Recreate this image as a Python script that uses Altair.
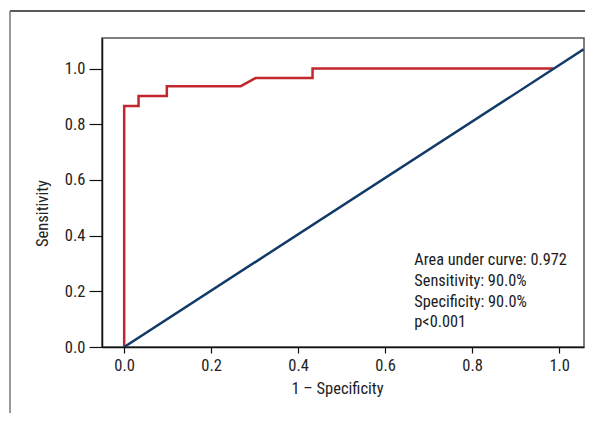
import altair as alt
import pandas as pd

# ROC curve points (1 - specificity, sensitivity)
roc_fpr = [0.0, 0.0, 0.033, 0.033, 0.098, 0.098, 0.268, 0.302, 0.433, 0.433, 0.987]
roc_tpr = [0.0, 0.866, 0.866, 0.902, 0.902, 0.937, 0.937, 0.966, 0.966, 1.0, 1.0]

# Reference (chance) line
ref_x = [0.0, 1.056]
ref_y = [0.0, 1.069]

tick_values = [0.0, 0.2, 0.4, 0.6, 0.8, 1.0]

annotation_lines = [
    "Area under curve: 0.972",
    "Sensitivity: 90.0%",
    "Specificity: 90.0%",
    "p<0.001",
]
annotation_x = [0.667]
annotation_y = [0.294]

FONT = "Roboto Condensed, DejaVu Sans Condensed, sans-serif"
RED = "#c1272d"
NAVY = "#123a68"

roc_df = pd.DataFrame({"fpr": roc_fpr, "tpr": roc_tpr, "order": list(range(len(roc_fpr)))})
ref_df = pd.DataFrame({"fpr": ref_x, "tpr": ref_y, "order": [0, 1]})
ann_df = pd.DataFrame({"x": annotation_x, "y": annotation_y, "text": ["\n".join(annotation_lines)]})
dummy = pd.DataFrame({"a": [0]})

xscale = alt.Scale(domain=[-0.051, 1.057], nice=False, zero=False)
yscale = alt.Scale(domain=[0, 1.11], nice=False, zero=False)

xaxis = alt.Axis(
    title="1 – Specificity", values=tick_values, format=".1f", grid=False,
    tickSize=6, labelPadding=4, titlePadding=7, titleX=235, titleAlign="center",
)
yaxis = alt.Axis(
    title="Sensitivity", values=tick_values, format=".1f", grid=False,
    tickSize=13, labelPadding=4, titleX=-60, titleY=175, titleBaseline="middle",
    titleAlign="center",
)

roc = alt.Chart(roc_df).mark_line(color=RED, strokeWidth=2.5, strokeJoin="miter").encode(
    x=alt.X("fpr:Q", scale=xscale, axis=xaxis),
    y=alt.Y("tpr:Q", scale=yscale, axis=yaxis),
    order="order:Q",
)

ref = alt.Chart(ref_df).mark_line(color=NAVY, strokeWidth=2.5, clip=True).encode(
    x=alt.X("fpr:Q", scale=xscale),
    y=alt.Y("tpr:Q", scale=yscale),
    order="order:Q",
)

ann = alt.Chart(ann_df).mark_text(
    align="left", baseline="alphabetic", font=FONT, fontSize=16.3, lineBreak="\n",
    lineHeight=20.7, color="#1a1a1a",
).encode(
    x=alt.X("x:Q", scale=xscale),
    y=alt.Y("y:Q", scale=yscale),
    text="text:N",
)

top_rule = alt.Chart(dummy).mark_rule(color="#222222", strokeWidth=1.5).encode(
    x=alt.value(-92), x2=alt.value(500), y=alt.value(-27)
)
left_rule = alt.Chart(dummy).mark_rule(color="#777777", strokeWidth=1.5).encode(
    x=alt.value(-92), y=alt.value(-27), y2=alt.value(400)
)

chart = alt.layer(roc, ref, ann, top_rule, left_rule).properties(
    width=482, height=309,
    autosize=alt.AutoSizeParams(type="none"),
    padding={"left": 94, "top": 30, "right": 1, "bottom": 66},
    background="white",
).configure_view(
    stroke="#555555", strokeWidth=1.5
).configure_axis(
    domainColor="#111111", domainWidth=1.5, tickColor="#111111", tickWidth=1.2,
    labelFont=FONT, labelFontSize=16.5, labelColor="#222222",
    titleFont=FONT, titleFontSize=16.5, titleFontWeight="normal", titleColor="#222222",
)

chart.save("out.html", embed_options={"renderer": "svg", "actions": False})
